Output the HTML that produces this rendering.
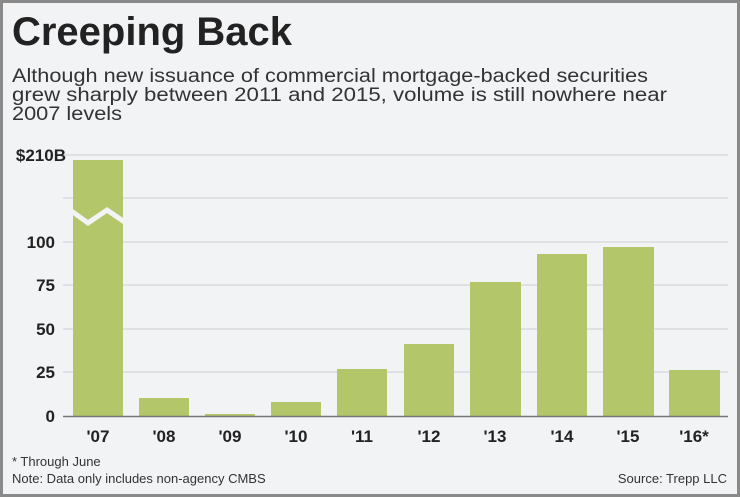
<!DOCTYPE html>
<html><head><meta charset="utf-8"><style>
html,body{margin:0;padding:0;background:#fff}
svg{display:block}
text{font-family:"Liberation Sans",Arial,sans-serif}
</style></head><body>
<svg width="740" height="497" viewBox="0 0 740 497" xmlns="http://www.w3.org/2000/svg">
<rect x="1.5" y="1.5" width="737" height="494" fill="#f2f3f5" stroke="#8a8a8a" stroke-width="3"/>
<text x="12" y="45" font-size="40" font-weight="bold" fill="#222" textLength="280" lengthAdjust="spacingAndGlyphs">Creeping Back</text>
<g font-size="19" fill="#333">
<text x="12" y="82" textLength="636" lengthAdjust="spacingAndGlyphs">Although new issuance of commercial mortgage-backed securities</text>
<text x="12" y="101" textLength="655" lengthAdjust="spacingAndGlyphs">grew sharply between 2011 and 2015, volume is still nowhere near</text>
<text x="12" y="120" textLength="110" lengthAdjust="spacingAndGlyphs">2007 levels</text>
</g>
<g stroke="#e0e1e4" stroke-width="2">
<line x1="63" y1="155" x2="728" y2="155"/>
<line x1="63" y1="198" x2="728" y2="198"/>
<line x1="63" y1="242" x2="728" y2="242"/>
<line x1="63" y1="285" x2="728" y2="285"/>
<line x1="63" y1="329" x2="728" y2="329"/>
<line x1="63" y1="372" x2="728" y2="372"/>
</g>
<g font-size="17" font-weight="bold" fill="#222" text-anchor="end">
<text x="66" y="161">$210B</text>
<text x="55" y="248">100</text>
<text x="55" y="291">75</text>
<text x="55" y="335">50</text>
<text x="55" y="378">25</text>
<text x="55" y="422">0</text>
</g>
<g fill="#b3c76a">
<rect x="73" y="160" width="50" height="256"/>
<rect x="139" y="398" width="50" height="18"/>
<rect x="205" y="414" width="50" height="2"/>
<rect x="271" y="402" width="50" height="14"/>
<rect x="337" y="369" width="50" height="47"/>
<rect x="404" y="344" width="50" height="72"/>
<rect x="470" y="282" width="51" height="134"/>
<rect x="537" y="254" width="50" height="162"/>
<rect x="603" y="247" width="51" height="169"/>
<rect x="669" y="370" width="51" height="46"/>
</g>
<polyline points="70,210 88,223 107,210 126,223" fill="none" stroke="#f2f3f5" stroke-width="5"/>
<line x1="63" y1="416.5" x2="728" y2="416.5" stroke="#777" stroke-width="1.5"/>
<g font-size="17" font-weight="bold" fill="#222" text-anchor="middle">
<text x="98" y="442">'07</text>
<text x="164" y="442">'08</text>
<text x="230" y="442">'09</text>
<text x="296" y="442">'10</text>
<text x="362" y="442">'11</text>
<text x="429" y="442">'12</text>
<text x="495" y="442">'13</text>
<text x="562" y="442">'14</text>
<text x="628" y="442">'15</text>
<text x="694" y="442">'16*</text>
</g>
<g font-size="13" fill="#333">
<text x="12" y="466">* Through June</text>
<text x="12" y="483">Note: Data only includes non-agency CMBS</text>
<text x="727" y="483" text-anchor="end">Source: Trepp LLC</text>
</g>
</svg>
</body></html>
